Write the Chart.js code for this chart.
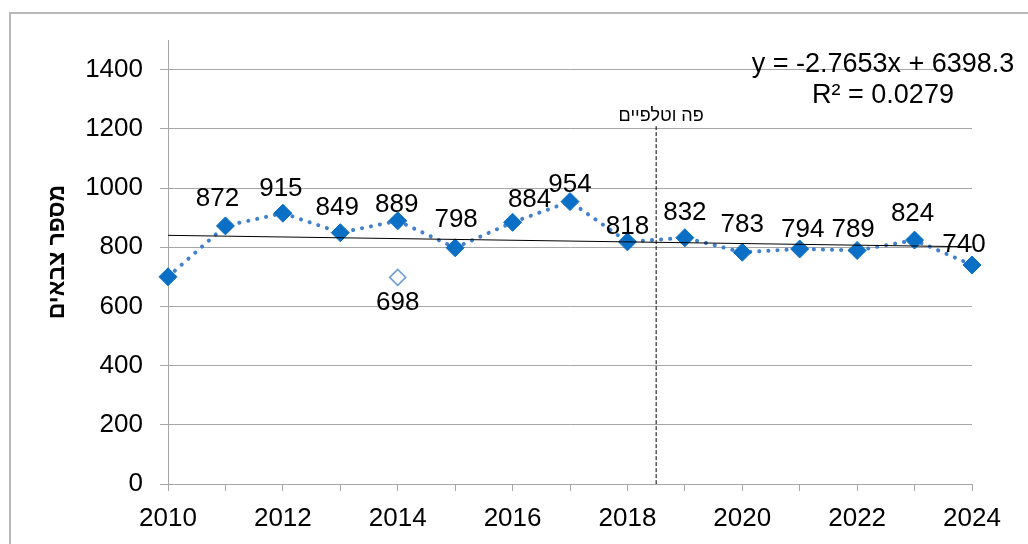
<!DOCTYPE html>
<html lang="he">
<head>
<meta charset="utf-8">
<title>מספר צבאים</title>
<script src="https://cdn.jsdelivr.net/npm/chart.js@4.4.1/dist/chart.umd.min.js"></script>
<style>
  html, body { margin: 0; padding: 0; background: #fff; }
  .chart-box { width: 1028px; height: 544px; position: relative; }
</style>
</head>
<body>
<div class="chart-box"><canvas id="deerChart"></canvas></div>
<script>
const years = [2010, 2011, 2012, 2013, 2014, 2015, 2016, 2017, 2018, 2019, 2020, 2021, 2022, 2023, 2024];
const deerCounts = [700, 872, 915, 849, 889, 798, 884, 954, 818, 832, 783, 794, 789, 824, 740];
const hideLabelYears = [2010];

const outlierYears = [2014];
const outlierCounts = [698];

// trend line end points
const trendYears = [2010, 2024];
const trendCounts = [840.1, 801.3];
const trendEquation = "y = -2.7653x + 6398.3";
const trendR2 = "R² = 0.0279";

const markerYears = [2018.5, 2018.5];
const markerCounts = [1209, 0];
const markerLabel = "פה וטלפיים";

const yTicksMax = 1500;
const yStep = 200;
const yTitle = "מספר צבאים";

// hand placed data labels: [dx, gap above point] in px, per year
const labelNudge = {
  2011: [-8, 20], 2012: [-2, 17], 2013: [-3, 18], 2014: [-1, 9],
  2015: [1, 21], 2016: [17, 15], 2017: [0, 10], 2018: [0, 8],
  2019: [0, 18], 2020: [0, 20], 2021: [3, 12], 2022: [-4, 13],
  2023: [-2, 19], 2024: [-8, 13],
};

const FONT = '"Liberation Sans", Arial, sans-serif';
const axisGrey = "#a6a6a6";

function toPoints(xs, ys) {
  return xs.map((x, i) => ({ x: x, y: ys[i] }));
}

const framePlugin = {
  id: "frame",
  beforeDraw(chart) {
    const ctx = chart.ctx;
    ctx.save();
    ctx.fillStyle = "#fff";
    ctx.fillRect(0, 0, chart.width, chart.height);
    ctx.strokeStyle = "#b8b8b8";
    ctx.lineWidth = 2;
    ctx.beginPath();
    ctx.moveTo(10, chart.height);
    ctx.lineTo(10, 13);
    ctx.lineTo(chart.width, 13);
    ctx.stroke();
    ctx.restore();
  },
};

const labelsPlugin = {
  id: "labels",
  afterDatasetsDraw(chart) {
    const ctx = chart.ctx;
    const area = chart.chartArea;
    ctx.save();
    ctx.fillStyle = "#000";
    ctx.textAlign = "center";
    ctx.textBaseline = "alphabetic";
    ctx.font = "26px " + FONT;

    // values above the blue diamonds
    chart.getDatasetMeta(1).data.forEach((pt, i) => {
      if (hideLabelYears.includes(years[i])) return;
      const n = labelNudge[years[i]] || [0, 15];
      ctx.fillText(String(deerCounts[i]), pt.x + n[0], pt.y - n[1]);
    });

    // value under the hollow diamond
    chart.getDatasetMeta(2).data.forEach((pt, i) => {
      ctx.fillText(String(outlierCounts[i]), pt.x, pt.y + 33);
    });

    // trend equation
    ctx.font = "27px " + FONT;
    const eqX = area.right - 89;
    ctx.fillText(trendEquation, eqX, 72);
    ctx.fillText(trendR2, eqX, 103);

    // marker line caption
    const mx = chart.scales.x.getPixelForValue(markerYears[0]);
    ctx.font = "18px " + FONT;
    ctx.fillText(markerLabel, mx + 5, 121);

    // y axis title
    ctx.font = "bold 23px " + FONT;
    ctx.translate(58, (area.top + area.bottom) / 2 - 10);
    ctx.rotate(-Math.PI / 2);
    ctx.textBaseline = "middle";
    ctx.fillText(yTitle, 0, 0);
    ctx.restore();
  },
};

const ctx = document.getElementById("deerChart").getContext("2d");
new Chart(ctx, {
  type: "line",
  data: {
    datasets: [
      {
        label: "trend",
        data: toPoints(trendYears, trendCounts),
        borderColor: "#000",
        borderWidth: 1,
        pointRadius: 0,
        order: 0,
      },
      {
        label: "deer",
        data: toPoints(years, deerCounts),
        clip: false,
        borderColor: "#4180cf",
        borderWidth: 4,
        borderDash: [0.1, 9],
        borderCapStyle: "round",
        pointStyle: "rectRot",
        pointRadius: 9,
        pointBackgroundColor: "#0b6fc6",
        pointBorderColor: "#0b6fc6",
        pointBorderWidth: 1,
        order: 1,
      },
      {
        label: "outlier",
        data: toPoints(outlierYears, outlierCounts),
        showLine: false,
        pointStyle: "rectRot",
        pointRadius: 8,
        pointBackgroundColor: "#fff",
        pointBorderColor: "#6c9bd8",
        pointBorderWidth: 1.5,
        order: 2,
      },
      {
        label: "marker",
        data: toPoints(markerYears, markerCounts),
        borderColor: "#000",
        borderWidth: 1,
        borderDash: [4, 2],
        pointRadius: 0,
        order: 3,
      },
    ],
  },
  options: {
    responsive: true,
    maintainAspectRatio: false,
    devicePixelRatio: 1,
    animation: false,
    layout: { padding: { top: 40, right: 56, bottom: 0, left: 0 } },
    plugins: {
      legend: { display: false },
      tooltip: { enabled: false },
    },
    scales: {
      x: {
        type: "linear",
        min: years[0],
        max: years[years.length - 1],
        afterFit: (scale) => { scale.height = 60; },
        ticks: {
          stepSize: 1,
          autoSkip: false,
          maxRotation: 0,
          padding: 12,
          color: "#000",
          font: { family: FONT, size: 26 },
          callback: (v) => (v % 2 === 0 ? String(v) : ""),
        },
        grid: { drawOnChartArea: false, tickLength: 7, color: axisGrey },
        border: { color: axisGrey },
      },
      y: {
        min: 0,
        max: yTicksMax,
        afterFit: (scale) => { scale.width = 168; },
        ticks: {
          stepSize: yStep,
          includeBounds: false,
          padding: 17,
          color: "#000",
          font: { family: FONT, size: 26 },
          callback: (v) => String(v),
        },
        grid: { color: axisGrey, tickLength: 8 },
        border: { color: axisGrey },
      },
    },
  },
  plugins: [framePlugin, labelsPlugin],
});
</script>
</body>
</html>
